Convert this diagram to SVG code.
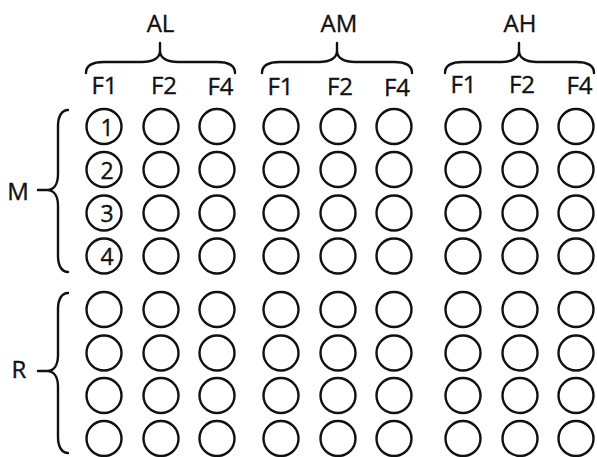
<svg xmlns="http://www.w3.org/2000/svg" width="597" height="457" viewBox="0 0 597 457">
<style>
.c{fill:none;stroke:#111;stroke-width:2.4}
.b{fill:none;stroke:#111;stroke-width:2.4;stroke-linecap:round}
text{font-family:"Open Sans","Liberation Sans",sans-serif;font-size:24px;fill:#111;stroke:#111;stroke-width:0.35;text-anchor:middle}
.n{font-size:23px}
</style>
<rect width="597" height="457" fill="#fff"/>
<g id="labels">
<text id="lbl-AL" x="160.5" y="32">AL</text>
<text id="lbl-AM" x="339" y="32">AM</text>
<text id="lbl-AH" x="520" y="32">AH</text>
<text x="104.5" y="94">F1</text><text x="164" y="94">F2</text><text x="220.5" y="95">F4</text>
<text x="280.5" y="95">F1</text><text x="340" y="95">F2</text><text x="397" y="96">F4</text>
<text x="463.5" y="93">F1</text><text x="522" y="93">F2</text><text x="579.5" y="94">F4</text>
<text id="lbl-M" x="18" y="200">M</text>
<text id="lbl-R" x="19" y="378">R</text>
</g>
<g id="connectors">
<path class="b" d="M86,73 C86,66 92,62 104,62 L142,62 C153,62 160,58 160,51 L160,43 M160,51 C160,58 167,62 178,62 L217,62 C229,62 235,66 235,73"/>
<path class="b" d="M262,73 C262,66 268,62 280,62 L319,62 C330,62 337,58 337,51 L337,43 M337,51 C337,58 344,62 355,62 L394,62 C406,62 412,66 412,73"/>
<path class="b" d="M445,73 C445,66 451,62 463,62 L501,62 C512,62 519,58 519,51 L519,43 M519,51 C519,58 526,62 537,62 L576,62 C588,62 594,66 594,73"/>
<path class="b" d="M68,110 C62,110 58,116 58,126 L58,174 C58,184 54,190 47,190 L38,190 M47,190 C54,190 58,196 58,206 L58,256 C58,266 62,272 68,272"/>
<path class="b" d="M68,293 C62,293 58,299 58,309 L58,355 C58,365 54,371 47,371 L38,371 M47,371 C54,371 58,377 58,387 L58,437 C58,447 62,453 68,453"/>
</g>
<g id="nodes">
<g id="M-AL-F1"><circle class="c" cx="104" cy="126.5" r="17.5"/><circle class="c" cx="104" cy="169.5" r="17.5"/><circle class="c" cx="104" cy="213" r="17.5"/><circle class="c" cx="104" cy="256" r="17.5"/>
<text class="n" x="107" y="135.5">1</text><text class="n" x="107" y="178.5">2</text><text class="n" x="107" y="222">3</text><text class="n" x="107" y="265">4</text></g>
<g id="M-AL-F2"><circle class="c" cx="161" cy="126.5" r="17.5"/><circle class="c" cx="161" cy="169.5" r="17.5"/><circle class="c" cx="161" cy="213" r="17.5"/><circle class="c" cx="161" cy="256" r="17.5"/></g>
<g id="M-AL-F4"><circle class="c" cx="217" cy="126.5" r="17.5"/><circle class="c" cx="217" cy="169.5" r="17.5"/><circle class="c" cx="217" cy="213" r="17.5"/><circle class="c" cx="217" cy="256" r="17.5"/></g>
<g id="M-AM-F1"><circle class="c" cx="281" cy="126.5" r="17.5"/><circle class="c" cx="281" cy="169.5" r="17.5"/><circle class="c" cx="281" cy="213" r="17.5"/><circle class="c" cx="281" cy="256" r="17.5"/></g>
<g id="M-AM-F2"><circle class="c" cx="338" cy="126.5" r="17.5"/><circle class="c" cx="338" cy="169.5" r="17.5"/><circle class="c" cx="338" cy="213" r="17.5"/><circle class="c" cx="338" cy="256" r="17.5"/></g>
<g id="M-AM-F4"><circle class="c" cx="394" cy="126.5" r="17.5"/><circle class="c" cx="394" cy="169.5" r="17.5"/><circle class="c" cx="394" cy="213" r="17.5"/><circle class="c" cx="394" cy="256" r="17.5"/></g>
<g id="M-AH-F1"><circle class="c" cx="463" cy="126.5" r="17.5"/><circle class="c" cx="463" cy="169.5" r="17.5"/><circle class="c" cx="463" cy="213" r="17.5"/><circle class="c" cx="463" cy="256" r="17.5"/></g>
<g id="M-AH-F2"><circle class="c" cx="520" cy="126.5" r="17.5"/><circle class="c" cx="520" cy="169.5" r="17.5"/><circle class="c" cx="520" cy="213" r="17.5"/><circle class="c" cx="520" cy="256" r="17.5"/></g>
<g id="M-AH-F4"><circle class="c" cx="576" cy="126.5" r="17.5"/><circle class="c" cx="576" cy="169.5" r="17.5"/><circle class="c" cx="576" cy="213" r="17.5"/><circle class="c" cx="576" cy="256" r="17.5"/></g>
<g id="R-AL-F1"><circle class="c" cx="104" cy="309.5" r="17.5"/><circle class="c" cx="104" cy="353" r="17.5"/><circle class="c" cx="104" cy="395.5" r="17.5"/><circle class="c" cx="104" cy="438.5" r="17.5"/></g>
<g id="R-AL-F2"><circle class="c" cx="161" cy="309.5" r="17.5"/><circle class="c" cx="161" cy="353" r="17.5"/><circle class="c" cx="161" cy="395.5" r="17.5"/><circle class="c" cx="161" cy="438.5" r="17.5"/></g>
<g id="R-AL-F4"><circle class="c" cx="217" cy="309.5" r="17.5"/><circle class="c" cx="217" cy="353" r="17.5"/><circle class="c" cx="217" cy="395.5" r="17.5"/><circle class="c" cx="217" cy="438.5" r="17.5"/></g>
<g id="R-AM-F1"><circle class="c" cx="281" cy="309.5" r="17.5"/><circle class="c" cx="281" cy="353" r="17.5"/><circle class="c" cx="281" cy="395.5" r="17.5"/><circle class="c" cx="281" cy="438.5" r="17.5"/></g>
<g id="R-AM-F2"><circle class="c" cx="338" cy="309.5" r="17.5"/><circle class="c" cx="338" cy="353" r="17.5"/><circle class="c" cx="338" cy="395.5" r="17.5"/><circle class="c" cx="338" cy="438.5" r="17.5"/></g>
<g id="R-AM-F4"><circle class="c" cx="394" cy="309.5" r="17.5"/><circle class="c" cx="394" cy="353" r="17.5"/><circle class="c" cx="394" cy="395.5" r="17.5"/><circle class="c" cx="394" cy="438.5" r="17.5"/></g>
<g id="R-AH-F1"><circle class="c" cx="463" cy="309.5" r="17.5"/><circle class="c" cx="463" cy="353" r="17.5"/><circle class="c" cx="463" cy="395.5" r="17.5"/><circle class="c" cx="463" cy="438.5" r="17.5"/></g>
<g id="R-AH-F2"><circle class="c" cx="520" cy="309.5" r="17.5"/><circle class="c" cx="520" cy="353" r="17.5"/><circle class="c" cx="520" cy="395.5" r="17.5"/><circle class="c" cx="520" cy="438.5" r="17.5"/></g>
<g id="R-AH-F4"><circle class="c" cx="576" cy="309.5" r="17.5"/><circle class="c" cx="576" cy="353" r="17.5"/><circle class="c" cx="576" cy="395.5" r="17.5"/><circle class="c" cx="576" cy="438.5" r="17.5"/></g>
</g>
</svg>
